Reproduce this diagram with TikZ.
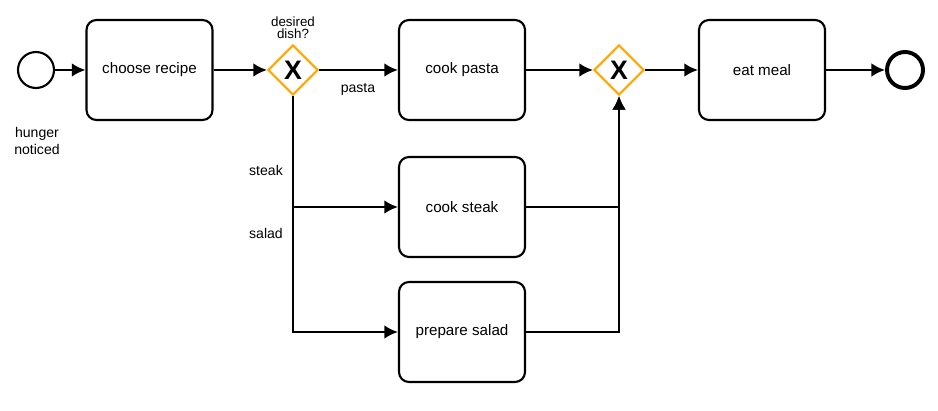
\documentclass[tikz,border=0pt]{standalone}
\usepackage{fontspec}
\setmainfont{Liberation Sans}
\usepackage{xcolor}
\usetikzlibrary{arrows.meta}
\usetikzlibrary{shapes.geometric}
\definecolor{gworange}{RGB}{255,166,0}

\begin{document}
\begin{tikzpicture}[>={Latex[length=3.4mm,width=3.4mm]}, x=0.025cm, y=-0.025cm,
	task/.style={draw, line width=1.5pt, rounded corners=0.25cm, minimum width=3.15cm, minimum height=2.5cm, font=\fontsize{10.8}{12}\selectfont},
	gateway/.style={draw=gworange, diamond, line width=1.5pt, minimum width=1.25cm, minimum height=1.25cm, inner sep=0pt, font=\fontsize{19}{19}\selectfont\bfseries},
	event/.style={draw, circle, line width=1.5pt, minimum size=0.9cm, inner sep=0pt},
	flow/.style={->, line width=1.5pt},
	lbl/.style={font=\fontsize{10}{12}\selectfont, align=center}]
			\useasboundingbox (0,0) rectangle (938,411);
			% events and tasks
			\node[event] (evstart) at (36,70) {};
			\node[task] (recipe) at (149.5,70) {choose recipe};
			\node[gateway] (gw1) at (293,70) {X};
			\node[task] (pasta) at (462,70) {cook pasta};
			\node[task] (steak) at (462,207) {cook steak};
			\node[task] (salad) at (462,332) {prepare salad};
			\node[gateway] (gw2) at (619,70) {X};
			\node[task] (eat) at (762,70) {eat meal};
			\node[event, line width=2.8pt] (evend) at (905,70) {};
			
			% labels
			\node[lbl] (hunger) at (37,141) {hunger\\noticed};
			\node[lbl, font=\fontsize{9.5}{8.5}\selectfont] (dish) at (293,28) {desired\\dish?};
			\node[lbl] (lpasta) at (358,89) {pasta};
			\node[lbl] (lsteak) at (266,170) {steak};
			\node[lbl] (lsalad) at (266,233) {salad};
			
			% flows
			\draw[flow] (evstart) -- (recipe);
			\draw[flow] (recipe) -- (gw1);
			\draw[flow] (gw1) -- (pasta);
			\draw[flow] (gw1.south) |- (steak);
			\draw[flow] (gw1.south) |- (salad);
			\draw[flow] (pasta) -- (gw2);
			\draw[flow] (steak) -| (gw2);
			\draw[flow] (salad) -| (gw2);
			\draw[flow] (gw2) -- (eat);
			\draw[flow] (eat) -- (evend);
			
		\end{tikzpicture}
\end{document}
